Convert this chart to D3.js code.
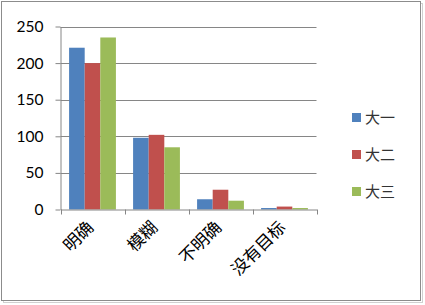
<!DOCTYPE html>
<html><head><meta charset="utf-8">
<script src="https://cdn.jsdelivr.net/npm/d3@7"></script>
<style>body{margin:0;background:#fff}svg{display:block}</style>
</head><body>
<script>
const categories = ["明确", "模糊", "不明确", "没有目标"];
const seriesNames = ["大一", "大二", "大三"];
const seriesColors = ["#4F81BD", "#C0504D", "#9BBB59"];
const values1 = [221, 98, 14, 2];
const values2 = [200, 102, 27, 4];
const values3 = [235, 85, 12, 2];
const yTicks = [0, 50, 100, 150, 200, 250];

const W = 425, H = 305;
const svg = d3.select("body").append("svg").attr("width", W).attr("height", H);

// chart border
svg.append("rect").attr("x", 3.5).attr("y", 3.5).attr("width", 419).attr("height", 299)
  .attr("fill", "none").attr("stroke", "#d0d0d0").attr("stroke-width", 1);
svg.append("rect").attr("x", 1.5).attr("y", 1.5).attr("width", 419).attr("height", 299)
  .attr("fill", "#fff").attr("stroke", "#8c8c8c").attr("stroke-width", 1);

const x0 = d3.scaleBand().domain(categories).range([60.5, 316.5]).paddingInner(0).paddingOuter(0);
const y = d3.scaleLinear().domain([0, 250]).range([209.5, 26.5]);
const x1 = d3.scaleBand().domain(seriesNames).range([0, x0.bandwidth()]).paddingInner(0).paddingOuter(0.55);

// gridlines
svg.append("g").selectAll("line").data(yTicks.filter(d => d > 0)).join("line")
  .attr("x1", 60.5).attr("x2", 316.5)
  .attr("y1", d => Math.round(y(d)) + 0.5).attr("y2", d => Math.round(y(d)) + 0.5)
  .attr("stroke", "#868686").attr("stroke-width", 1);

const data = [values1, values2, values3];
const g = svg.append("g");
seriesNames.forEach((s, i) => {
  g.append("g").selectAll("rect").data(categories).join("rect")
    .attr("x", c => x0(c) + x1(s))
    .attr("y", (c, j) => y(data[i][j]))
    .attr("width", x1.bandwidth())
    .attr("height", (c, j) => y(0) - y(data[i][j]))
    .attr("fill", seriesColors[i]);
});

// y axis
const yAxis = d3.axisLeft(y).tickValues(yTicks).tickSize(5).tickSizeOuter(0).tickPadding(12);
const ya = svg.append("g").attr("transform", "translate(60.5,0)").call(yAxis);
ya.select(".domain").attr("stroke", "#868686");
ya.selectAll(".tick line").attr("stroke", "#868686");
ya.selectAll("text").attr("font-family", "Lato, 'Open Sans', sans-serif").attr("font-size", 15.5).attr("fill", "#000");

// x axis
const xAxis = d3.axisBottom(x0).tickSize(0).tickSizeOuter(0);
const xa = svg.append("g").attr("transform", "translate(0,209.5)").call(xAxis);
xa.select(".domain").attr("stroke", "#868686");
xa.selectAll(".tick line").remove();
const bounds = categories.map(c => x0(c)).concat([x0(categories[categories.length - 1]) + x0.bandwidth()]);
xa.selectAll("line.b").data(bounds).join("line").attr("class", "b")
  .attr("x1", d => Math.round(d) + 0.5).attr("x2", d => Math.round(d) + 0.5)
  .attr("y1", 0).attr("y2", 5).attr("stroke", "#868686");
xa.selectAll(".tick text")
  .attr("font-family", "'Noto Sans CJK SC', sans-serif").attr("font-size", 17).attr("fill", "#000")
  .attr("text-anchor", "end").attr("dy", 0).attr("y", 0)
  .attr("transform", "translate(2,19) rotate(-45)");

// legend
const lg = svg.append("g");
seriesNames.forEach((s, i) => {
  const yy = 113 + i * 37;
  lg.append("rect").attr("x", 352).attr("y", yy).attr("width", 9).attr("height", 9).attr("fill", seriesColors[i]);
  lg.append("text").attr("x", 365).attr("y", yy + 10).text(s)
    .attr("font-family", "'Noto Sans CJK SC', sans-serif").attr("font-size", 15).attr("fill", "#333");
});
</script>
</body></html>
